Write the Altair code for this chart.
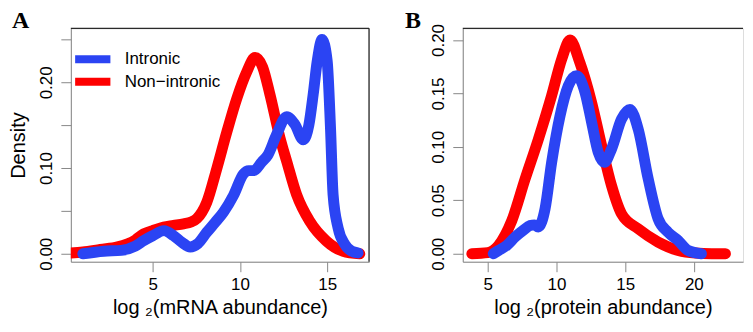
import altair as alt
import pandas as pd

SERIES = ["Intronic", "Non\u2212intronic"]
COLORS = ["#2b44f3", "#fe0000"]
PANEL_LETTERS = ["A", "B"]

# Panel A: log2 (mRNA abundance)
a_intronic_x = [1.0, 2.2, 3.2, 4.0, 4.5, 5.0, 5.65, 6.2, 6.7, 7.15, 7.6, 8.1, 8.6, 9.06, 9.63,
                10.2, 10.5, 10.8, 11.25, 11.6, 12.1, 12.68, 13.15, 13.63, 13.95, 14.2, 14.43,
                14.71, 15.0, 15.19, 15.34, 15.63, 16.01, 16.4, 16.77]
a_intronic_y = [0.000, 0.003, 0.004, 0.009, 0.0155, 0.021, 0.027, 0.021, 0.013, 0.008, 0.012,
                0.025, 0.037, 0.0486, 0.068, 0.093, 0.097, 0.097, 0.107, 0.115, 0.139, 0.160,
                0.151, 0.133, 0.150, 0.186, 0.2245, 0.250, 0.225, 0.148, 0.069, 0.030, 0.011,
                0.003, 0.001]
a_non_x = [0.3, 1.0, 2.0, 3.0, 4.0, 4.49, 5.0, 5.63, 6.2, 6.77, 7.2, 7.53, 8.1, 8.67, 9.25,
           9.82, 10.39, 10.87, 11.3, 11.72, 12.3, 12.68, 13.25, 14.0, 14.96, 15.91, 16.87]
a_non_y = [0.001, 0.002, 0.005, 0.008, 0.016, 0.0233, 0.027, 0.031, 0.033, 0.035, 0.037, 0.041,
           0.060, 0.099, 0.142, 0.181, 0.212, 0.229, 0.218, 0.186, 0.135, 0.108, 0.069, 0.038,
           0.0148, 0.003, 0.000]

# Panel B: log2 (protein abundance)
b_intronic_x = [5.4, 5.78, 6.4, 6.99, 7.6, 8.08, 8.4, 8.68, 9.17, 9.65, 10.26, 10.86, 11.47,
                12.08, 12.56, 13.04, 13.48, 14.01, 14.74, 15.35, 15.95, 16.68, 17.4, 18.13,
                18.86, 19.59, 20.55]
b_intronic_y = [0.000, 0.003, 0.008, 0.0156, 0.022, 0.0264, 0.027, 0.025, 0.042, 0.0855, 0.129,
                0.157, 0.1665, 0.151, 0.123, 0.095, 0.0855, 0.098, 0.126, 0.135, 0.1166, 0.070,
                0.0327, 0.020, 0.0124, 0.003, 0.000]
b_non_x = [3.84, 5.0, 5.78, 6.75, 7.72, 8.68, 9.65, 10.38, 10.99, 11.7, 12.56, 13.29, 14.01,
           14.74, 15.95, 17.4, 18.86, 20.1, 21.3, 22.3]
b_non_y = [0.000, 0.001, 0.0078, 0.031, 0.070, 0.107, 0.148, 0.182, 0.200, 0.179, 0.1415,
           0.101, 0.0637, 0.0373, 0.0233, 0.0109, 0.0031, 0.0006, 0.000, 0.000]

a_ticks_x = [5, 10, 15]
a_ticks_y = [0, 0.05, 0.10, 0.15, 0.20, 0.25]
b_ticks_x = [5, 10, 15, 20]
b_ticks_y = [0, 0.05, 0.10, 0.15, 0.20]

FONT = "Liberation Sans"
FRAME = "#2a2a2a"


def to_df(xs, ys, name):
    return pd.DataFrame({"x": xs, "y": ys, "series": name})


def panel(df_int, df_non, xdom, ydom, xvals, yvals, ylabel_expr, xtitle, ytitle,
          letter, letter_dx, width, height, show_legend, right_border):
    color_scale = alt.Scale(domain=SERIES, range=COLORS)
    if show_legend:
        legend = alt.Legend(title=None, orient="none", legendX=0, legendY=21,
                            symbolType="stroke", symbolStrokeWidth=8, symbolSize=1250,
                            labelFontSize=17, labelFont=FONT, labelColor="black",
                            labelOffset=10, clipHeight=20, rowPadding=2.5, padding=0)
    else:
        legend = None
    xs = alt.Scale(domain=xdom, nice=False, zero=False)
    ys = alt.Scale(domain=ydom, nice=False, zero=False)
    x_axis = alt.Axis(orient="bottom", values=xvals, tickSize=10, labelPadding=5,
                      labelFontSize=17, labelOverlap=False, labelFlush=False,
                      title=xtitle, titleFontSize=20, titleFontWeight="normal",
                      titlePadding=5, grid=False)
    y_axis = alt.Axis(orient="left", values=yvals, labelExpr=ylabel_expr, labelAngle=270,
                      labelAlign="center", labelBaseline="alphabetic", tickSize=10,
                      labelPadding=9, labelFontSize=17, labelOverlap=False, labelFlush=False,
                      title=ytitle, titleFontSize=20, titleFontWeight="normal",
                      titlePadding=9, grid=False)
    line = dict(strokeWidth=11, strokeCap="round", strokeJoin="round",
                interpolate="monotone", clip=True)
    red = alt.Chart(df_non).mark_line(**line).encode(
        x=alt.X("x:Q", scale=xs, axis=x_axis),
        y=alt.Y("y:Q", scale=ys, axis=y_axis),
        color=alt.Color("series:N", scale=color_scale, legend=legend),
    )
    blue = alt.Chart(df_int).mark_line(**line).encode(
        x=alt.X("x:Q", scale=xs),
        y=alt.Y("y:Q", scale=ys),
        color=alt.Color("series:N", scale=color_scale, legend=legend),
    )
    frame_df = pd.DataFrame({"edge": ["top"]})
    letter_df = pd.DataFrame({"letter": [letter]})
    layers = [red, blue,
              alt.Chart(frame_df).mark_rule(color=FRAME, strokeWidth=1.3).encode(
                  x=alt.value(0), x2=alt.value(width), y=alt.value(0)),
              alt.Chart(letter_df).mark_text(
                  font="Liberation Serif", fontSize=24, fontWeight="bold", color="black",
                  align="left", baseline="alphabetic").encode(
                  text="letter:N", x=alt.value(letter_dx), y=alt.value(0))]
    if right_border:
        layers.append(alt.Chart(frame_df).mark_rule(color=FRAME, strokeWidth=1.3).encode(
            x=alt.value(width), y=alt.value(0), y2=alt.value(height)))
    return alt.layer(*layers).properties(width=width, height=height)


panel_a = panel(to_df(a_intronic_x, a_intronic_y, SERIES[0]),
                to_df(a_non_x, a_non_y, SERIES[1]),
                [0.31, 17.4], [-0.0093, 0.263], a_ticks_x, a_ticks_y,
                "(round(datum.value * 100) % 10 == 0) ? format(datum.value, '.2f') : ''",
                "log \u2082(mRNA abundance)", "Density", PANEL_LETTERS[0], -59, 299, 234,
                True, True)
panel_b = panel(to_df(b_intronic_x, b_intronic_y, SERIES[0]),
                to_df(b_non_x, b_non_y, SERIES[1]),
                [3.18, 23.58], [-0.0075, 0.2109], b_ticks_x, b_ticks_y,
                "format(datum.value, '.2f')",
                "log \u2082(protein abundance)", "", PANEL_LETTERS[1], -58, 281, 234,
                False, False)

chart = alt.hconcat(panel_a, panel_b, spacing=94, bounds="flush").resolve_scale(
    color="independent"
).resolve_legend(color="independent").properties(
    padding={"left": 0, "top": 0, "right": 0, "bottom": 0}
).configure_view(stroke="transparent").configure_axis(
    domainColor=FRAME, domainWidth=1.3, tickColor=FRAME, tickWidth=1.3,
    labelColor="black", titleColor="black", labelFont=FONT, titleFont=FONT,
    titleFontWeight="normal"
).configure(background="white")

chart.save("out.html", embed_options={"renderer": "svg", "actions": False})
